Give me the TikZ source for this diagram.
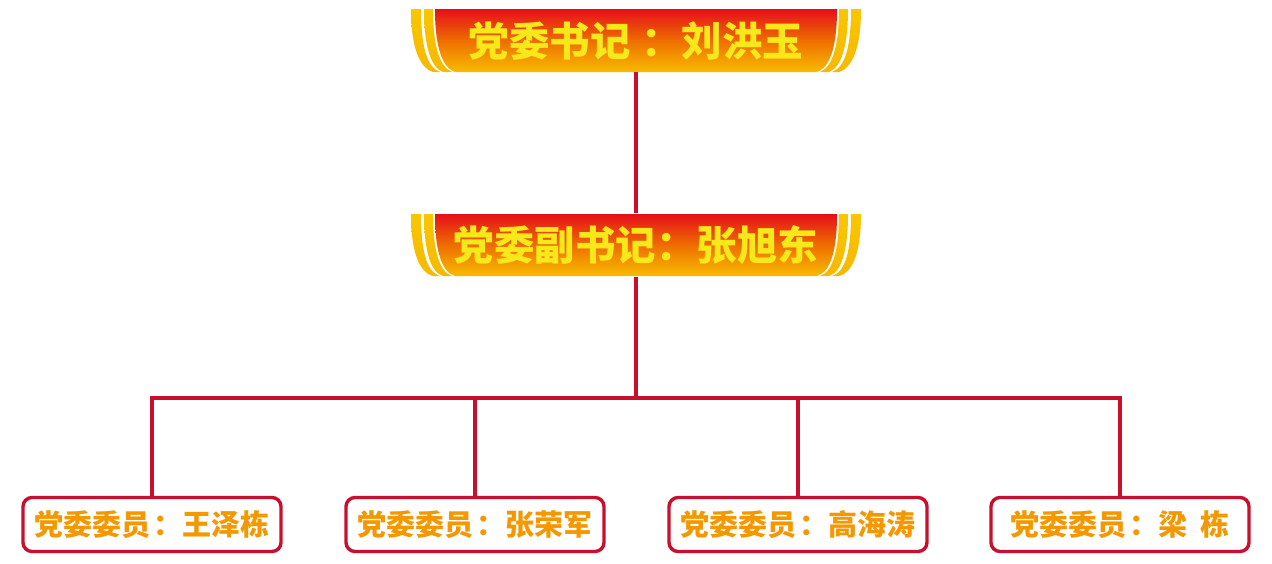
\documentclass[tikz,border=0pt]{standalone}
\usepackage{fontspec}
\newfontfamily\cjk{Noto Sans CJK SC}
\definecolor{linered}{HTML}{C8102E}
\definecolor{boxorange}{HTML}{F39800}
\definecolor{ttext}{HTML}{F7E81A}
\definecolor{btop}{HTML}{E60E1B}
\definecolor{bmid}{HTML}{EE6E00}
\definecolor{bbot}{HTML}{F8BB00}
\definecolor{stripetop}{HTML}{F9C600}
\definecolor{stripebot}{HTML}{F6B800}
\tikzset{
 conn/.style={draw=linered, line width=3.5pt},
 member/.style={draw=linered, line width=3.4pt, rounded corners=9pt, fill=white,
   minimum width=258pt, minimum height=54pt, inner sep=0pt, text=boxorange,
   font=\cjk\bfseries\fontsize{29}{29}\selectfont},
 title/.style={minimum width=402pt, minimum height=63pt, inner sep=0pt, text=ttext,
   font=\cjk\bfseries\fontsize{40.5}{40.5}\selectfont},
 stripefill/.style={top color=stripetop, bottom color=stripebot},
 bodyfill/.style={top color=btop, bottom color=bbot, middle color=bmid},
}
\newcommand\drawbanner[3]{%
 \begin{scope}[shift={(#1,#2)}]
  \foreach \s in {1,-1}{
   \begin{scope}[xscale=\s]
    \shade[stripefill] (-225,0) .. controls (-225,35) and (-218,58) .. (-203,#3) -- (-196,#3) .. controls (-210,58) and (-215,35) .. (-215,0) -- cycle;
    \shade[stripefill] (-212,0) .. controls (-212,35) and (-206,58) .. (-193,#3) -- (-184,#3) .. controls (-197,58) and (-203,35) .. (-203,0) -- cycle;
   \end{scope}
  }
  \shade[bodyfill] (-201,0) .. controls (-201,35) and (-195,58) .. (-181,#3) -- (181,#3) .. controls (195,58) and (201,35) .. (201,0) -- cycle;
 \end{scope}}
\begin{document}
\begin{tikzpicture}[x=1pt,y=-1pt]
\useasboundingbox (0,0) rectangle (1272,563);
\drawbanner{636}{9}{63}
\drawbanner{636}{214}{62}
\node[title] (sec) at (636,40.5) {党委书记\hspace{0.25em}：刘洪玉};
\node[title] (dep) at (636,245) {党委副书记：张旭东};
\coordinate (j) at (636,398);
\node[member] (m1) at (152,524.5) {党委委员\hspace{0.13em}：王泽栋};
\node[member] (m2) at (475,524.5) {党委委员\hspace{0.13em}：张荣军};
\node[member] (m3) at (798,524.5) {党委委员\hspace{0.13em}：高海涛};
\node[member] (m4) at (1120,524.5) {党委委员\hspace{0.13em}：梁\hspace{0.45em}栋};
\draw[conn] (sec.south) -- (dep.north);
\draw[conn] (dep.south) -- (j);
\draw[conn] (m1.north) -- (m1.north |- j) -- (m4.north |- j) -- (m4.north);
\draw[conn] (m2.north) -- (m2.north |- j);
\draw[conn] (m3.north) -- (m3.north |- j);
\end{tikzpicture}
\end{document}
